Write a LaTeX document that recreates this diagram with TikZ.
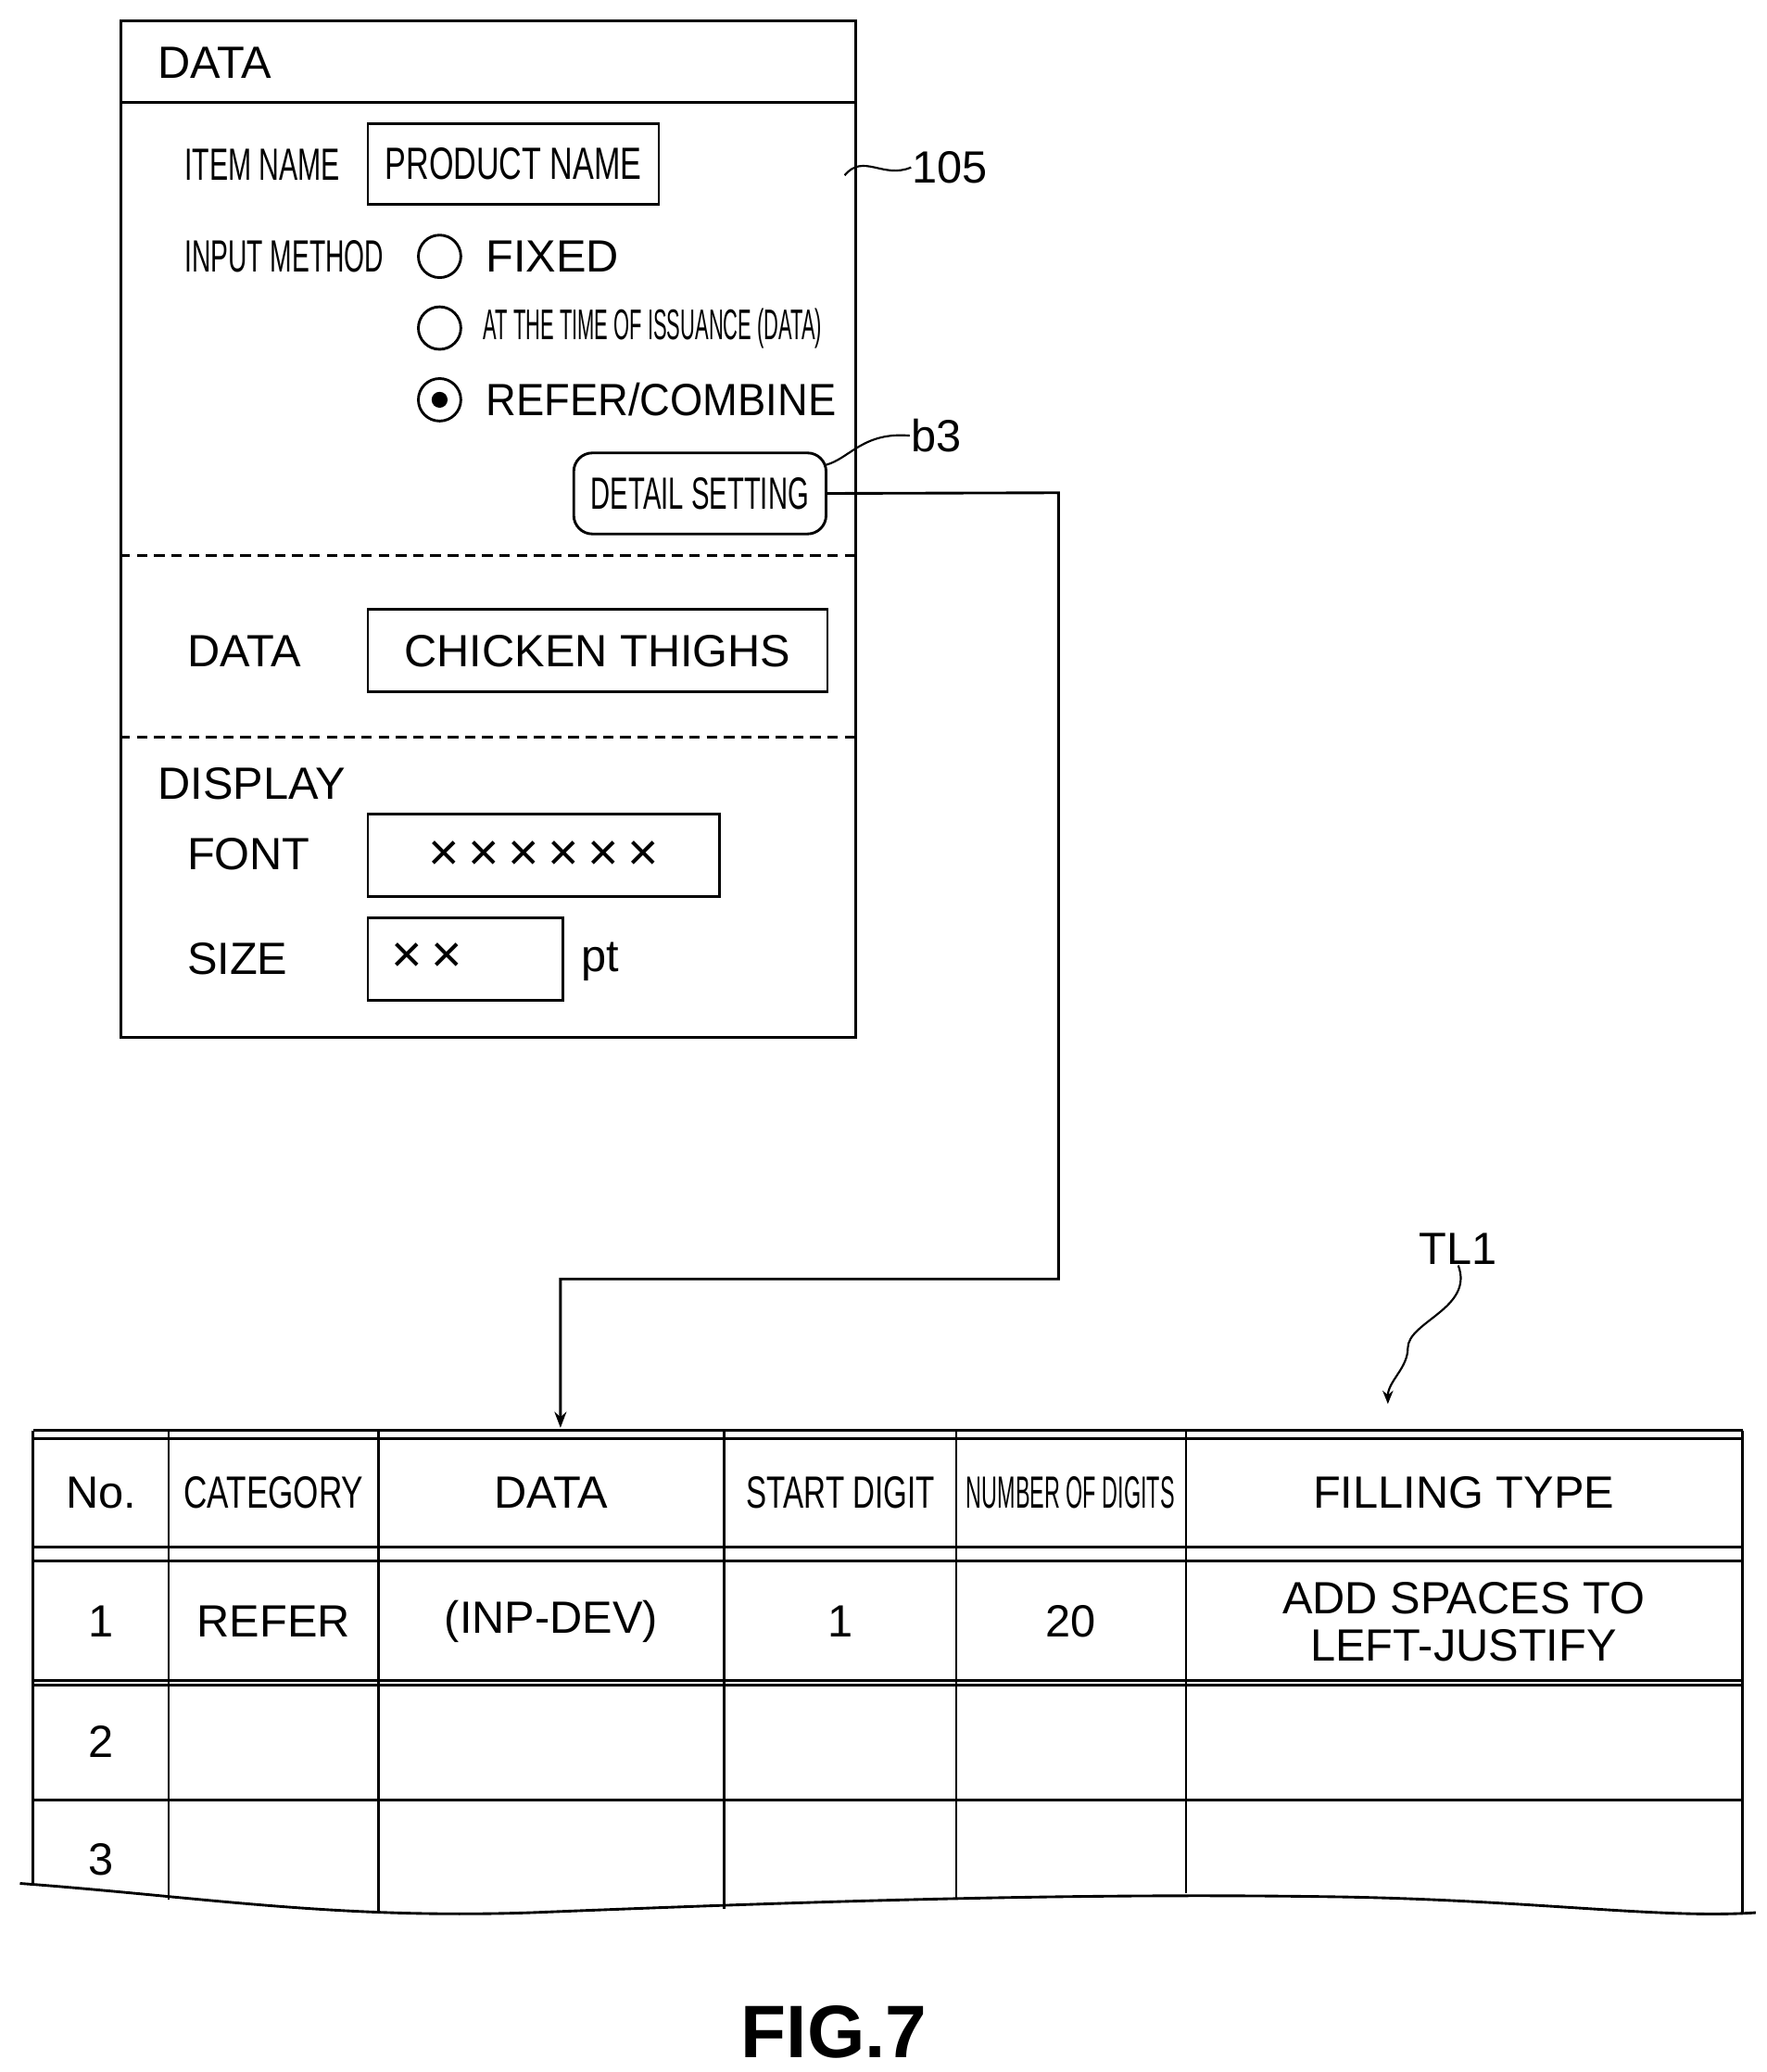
\documentclass[tikz,border=0pt]{standalone}
\usepackage{fontspec}
\setmainfont{Liberation Sans}
\usetikzlibrary{arrows.meta,decorations.pathmorphing}
\begin{document}
\begin{tikzpicture}[x=1pt,y=-1pt,line width=2pt,
  t/.style={font=\fontsize{34}{36}\selectfont,inner sep=0pt},
  box/.style={draw,inner sep=0pt},
  rad/.style={draw,circle,minimum size=32pt,inner sep=0pt}]
\useasboundingbox (0,0) rectangle (1330,1560);
% panel
\node[box,minimum width=553pt,minimum height=765pt,anchor=north west] (panel) at (90,15) {};
\draw (90,77) -- (643,77);
\draw[dashed,dash pattern=on 8pt off 5pt] (90,418) -- (643,418) (90,555) -- (643,555);
\node[t,anchor=west] (hd) at (118,47) {DATA};
\node[t,anchor=west] (in) at (138,124) {\scalebox{0.62}[1]{ITEM NAME}};
\node[box,minimum width=219pt,minimum height=61pt,anchor=north west] (pn) at (276,92) {};
\node[t] (pnt) at (pn.center) {\scalebox{0.7}[1]{PRODUCT NAME}};
\node[t,anchor=west] (im) at (138,193) {\scalebox{0.58}[1]{INPUT METHOD}};
\node[rad] (r1) at (331,193) {};
\node[t,anchor=west] (fx) at (365,193) {FIXED};
\node[rad] (r2) at (331,247) {};
\node[t,anchor=west] (at) at (363,247) {\scalebox{0.45}[0.95]{AT THE TIME OF ISSUANCE (DATA)}};
\node[rad] (r3) at (331,301) {};
\fill (331,301) circle (6pt);
\node[t,anchor=west] (rc) at (365,301) {\scalebox{0.93}[1]{REFER/COMBINE}};
\node[box,rounded corners=14pt,minimum width=190pt,minimum height=61pt,anchor=north west] (ds) at (431,340) {};
\node[t] at (ds.center) {\scalebox{0.6}[1]{DETAIL SETTING}};
\node[t,anchor=west] (l105) at (686,126) {105};
\draw[line width=1.5pt] (636,132) .. controls (650,115) and (665,135) .. (l105.west);
\node[t,anchor=west] (lb3) at (685,328) {b3};
\draw[line width=1.5pt] (622,350) .. controls (640,345) and (650,325) .. (lb3.west);
\node[t,anchor=west] (dl) at (140,490) {DATA};
\node[box,minimum width=346pt,minimum height=62pt,anchor=north west] (ct) at (276,458) {};
\node[t] at (ct.center) {CHICKEN THIGHS};
\node[t,anchor=west] (dp) at (118,590) {DISPLAY};
\node[t,anchor=west] (fo) at (140,643) {FONT};
\node[box,minimum width=265pt,minimum height=62pt,anchor=north west] (fb) at (276,612) {};
\node[t,font=\fontsize{40}{40}\selectfont] at (fb.center) {×\,×\,×\,×\,×\,×};
\node[t,anchor=west] (sz) at (140,722) {SIZE};
\node[box,minimum width=147pt,minimum height=62pt,anchor=north west] (sb) at (276,690) {};
\node[t,anchor=west,font=\fontsize{40}{40}\selectfont] at (294,721) {×\,×};
\node[t,anchor=west] (pt) at (437,724) {pt};
% connector
\coordinate (tgt) at (422,1075);
\draw[-{Stealth[length=12pt,width=9pt]}] (ds.east) -- (797,371) -- (797,963) -- (422,963) -- (tgt);
% table
\draw (25,1077) -- (1312,1077) (25,1083) -- (1312,1083);
\draw (25,1165) -- (1312,1165) (25,1175) -- (1312,1175);
\draw (25,1265) -- (1312,1265) (25,1269) -- (1312,1269);
\draw (25,1355) -- (1312,1355);
\foreach \x/\yb in {25/1420,127/1430,285/1441,545/1437,720/1430,893/1425,1312/1440} \draw (\x,1077) -- (\x,\yb);
\draw (15,1418) .. controls (150,1428) and (250,1445) .. (400,1440) .. controls (600,1432) and (800,1425) .. (1000,1428) .. controls (1150,1430) and (1250,1445) .. (1322,1440);
\foreach \x/\s in {76/No.,415/DATA,1102/FILLING TYPE} \node[t] at (\x,1124) {\s};
\node[t] at (206,1124) {\scalebox{0.72}[1]{CATEGORY}};
\node[t] at (633,1124) {\scalebox{0.68}[1]{START DIGIT}};
\node[t] at (806,1124) {\scalebox{0.48}[1]{NUMBER OF DIGITS}};
\node[t] at (76,1221) {1};
\node[t] at (206,1221) {REFER};
\node[t] at (415,1221) {(INP-DEV)};
\node[t] at (633,1221) {1};
\node[t] at (806,1221) {20};
\node[t,align=center] at (1102,1221) {ADD SPACES TO\\LEFT-JUSTIFY};
\node[t] at (76,1311) {2};
\node[t] at (76,1400) {3};
\node[t] (tl1) at (1098,940) {TL1};
\coordinate (tla) at (1045,1057);
\draw[line width=1.5pt,-{Stealth[length=10pt,width=8pt]}] (tl1.south) .. controls (1110,985) and (1060,995) .. (1060,1015) .. controls (1060,1030) and (1045,1040) .. (tla);
\node[font=\fontsize{56}{60}\selectfont\bfseries,inner sep=0pt] (fig) at (628,1530) {FIG.7};
\end{tikzpicture}
\end{document}
